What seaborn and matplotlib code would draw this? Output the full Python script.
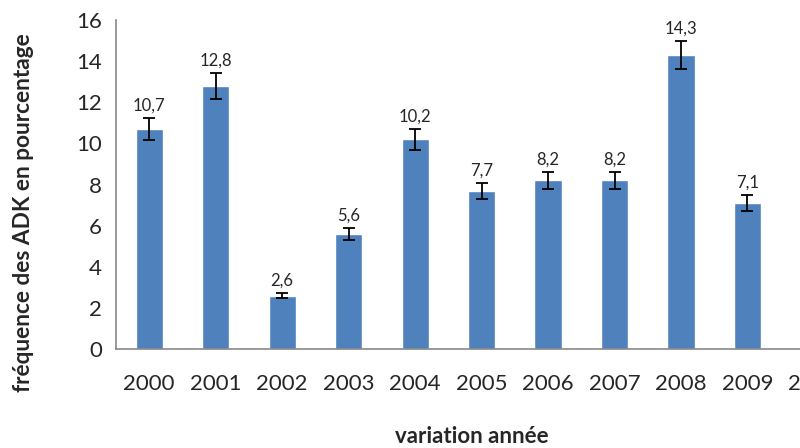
import matplotlib
matplotlib.use('Agg')
import matplotlib.pyplot as plt
import seaborn as sns
import pandas as pd

years = ['2000', '2001', '2002', '2003', '2004', '2005', '2006', '2007', '2008', '2009']
all_years = years + ['2010']
freq = [10.7, 12.8, 2.6, 5.6, 10.2, 7.7, 8.2, 8.2, 14.3, 7.1]
err = [0.55, 0.65, 0.13, 0.3, 0.5, 0.38, 0.4, 0.42, 0.7, 0.38]
labels = ['10,7', '12,8', '2,6', '5,6', '10,2', '7,7', '8,2', '8,2', '14,3', '7,1']

sns.set_style('white')
plt.rcParams['font.family'] = ['Lato', 'DejaVu Sans']

df = pd.DataFrame({'annee': years, 'freq': freq})

fig = plt.figure(figsize=(8, 4.48), dpi=100)
ax = fig.add_axes([0.145, 0.221, 0.914, 0.734])
sns.barplot(data=df, x='annee', y='freq', order=all_years, color='#4F81BD',
            saturation=1, width=0.41, errorbar=None, ax=ax)
ax.errorbar(range(len(years)), freq, yerr=err, fmt='none', ecolor='black',
            elinewidth=1.3, capsize=4.5, capthick=1.3)

for i, (v, e, t) in enumerate(zip(freq, err, labels)):
    ax.annotate(t, (i, v + e), xytext=(0, 3), textcoords='offset points',
                ha='center', va='bottom', fontsize=12)

ax.set_xlim(-0.5, 10.5)
ax.set_ylim(0, 16)
ax.set_yticks(range(0, 17, 2))
ax.set_xticks([i - 0.5 for i in range(12)], minor=True)
ax.tick_params(axis='x', which='major', length=0, pad=18, labelsize=16)
ax.tick_params(axis='x', which='minor', length=6, width=1.2, color='#888888', direction='out')
ax.tick_params(axis='y', length=6, width=1.2, color='#888888', direction='out', labelsize=16, pad=4)

for s in ['top', 'right']:
    ax.spines[s].set_visible(False)
for s in ['left', 'bottom']:
    ax.spines[s].set_color('#888888')
    ax.spines[s].set_linewidth(1.2)

ax.set_xlabel('')
ax.set_ylabel('')
fig.text(0.029, 0.525, 'fréquence des ADK en pourcentage', rotation=90, ha='center', va='center',
         fontsize=16.3, fontweight='bold')
fig.text(0.59, 0.025, 'variation année', ha='center', va='center', fontsize=16, fontweight='bold')

plt.savefig('out.png', dpi=100)
